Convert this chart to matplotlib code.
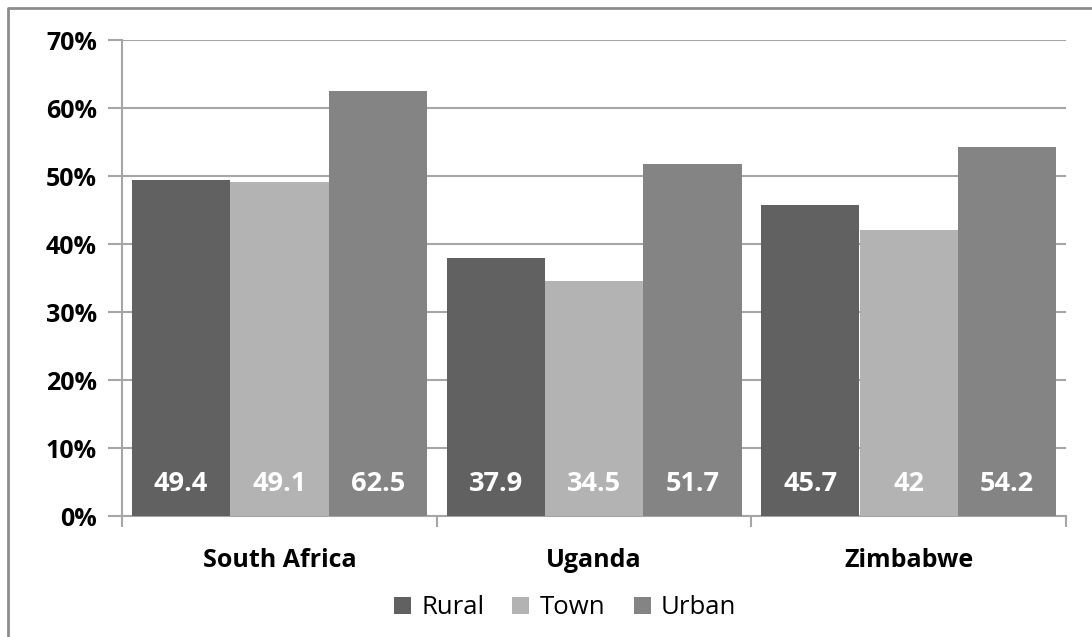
import numpy as np
import matplotlib
matplotlib.use('Agg')
import matplotlib.pyplot as plt
from matplotlib.lines import Line2D

# Данные
countries = ['South Africa', 'Uganda', 'Zimbabwe']
series = ['Rural', 'Town', 'Urban']
rural = [49.4, 37.9, 45.7]
town = [49.1, 34.5, 42]
urban = [62.5, 51.7, 54.2]
value_labels = [['49.4', '37.9', '45.7'], ['49.1', '34.5', '42'], ['62.5', '51.7', '54.2']]
y_ticks = [0, 10, 20, 30, 40, 50, 60, 70]

colors = ['#616161', '#b3b3b3', '#848484']
grid_color = '#a6a6a6'

plt.rcParams['font.family'] = ['Open Sans', 'DejaVu Sans']
FS = 18

W, H = 1092, 637
fig = plt.figure(figsize=(W / 100, H / 100), dpi=100)

# рамка диаграммы (видны только левая и верхняя стороны)
fig.add_artist(Line2D([8 / W, 8 / W, 1.0], [0.0, 1 - 8 / H, 1 - 8 / H],
                      transform=fig.transFigure, color='#8c8c8c', lw=2))

left, right, top, bottom = 122, 1066, 40, 516
ax = fig.add_axes([left / W, 1 - bottom / H, (right - left) / W, (bottom - top) / H])

x = np.arange(len(countries))
bar_w = 1 / 3.2
data = [rural, town, urban]
for i, (vals, name) in enumerate(zip(data, series)):
    pos = x + (i - 1) * bar_w
    ax.bar(pos, vals, width=bar_w, color=colors[i], label=name, zorder=3, linewidth=0)
    for p, lab in zip(pos, value_labels[i]):
        ax.text(p, 4.7, lab, ha='center', va='center', color='white',
                fontsize=19.5, fontweight='bold', zorder=4)

ax.set_xlim(-0.5, 2.5)
ax.set_ylim(0, 70)
ax.set_yticks(y_ticks)
ax.set_yticklabels([f'{t}%' for t in y_ticks], fontsize=FS, fontweight='bold')
ax.yaxis.grid(True, color=grid_color, lw=1.5, zorder=0)

ax.set_xticks([-0.5, 0.5, 1.5, 2.5])
ax.set_xticklabels([])
ax.set_xticks(x, minor=True)
ax.set_xticklabels(countries, minor=True, fontsize=FS, fontweight='bold')
ax.tick_params(axis='x', which='minor', length=0, pad=23)
ax.tick_params(axis='x', which='major', length=8, color=grid_color, width=1.5)
ax.tick_params(axis='y', length=10, color=grid_color, width=1.5, pad=8)

for s in ['top', 'right']:
    ax.spines[s].set_visible(False)
for s in ['left', 'bottom']:
    ax.spines[s].set_color(grid_color)
    ax.spines[s].set_linewidth(1.5)

ax.legend(loc='center', bbox_to_anchor=(565 / W, 1 - 608 / H), bbox_transform=fig.transFigure,
          ncol=3, frameon=False, fontsize=FS + 0.5, handlelength=0.66, handleheight=0.66,
          handletextpad=0.4, columnspacing=1.1, borderpad=0)

fig.savefig('out.png', dpi=100)
